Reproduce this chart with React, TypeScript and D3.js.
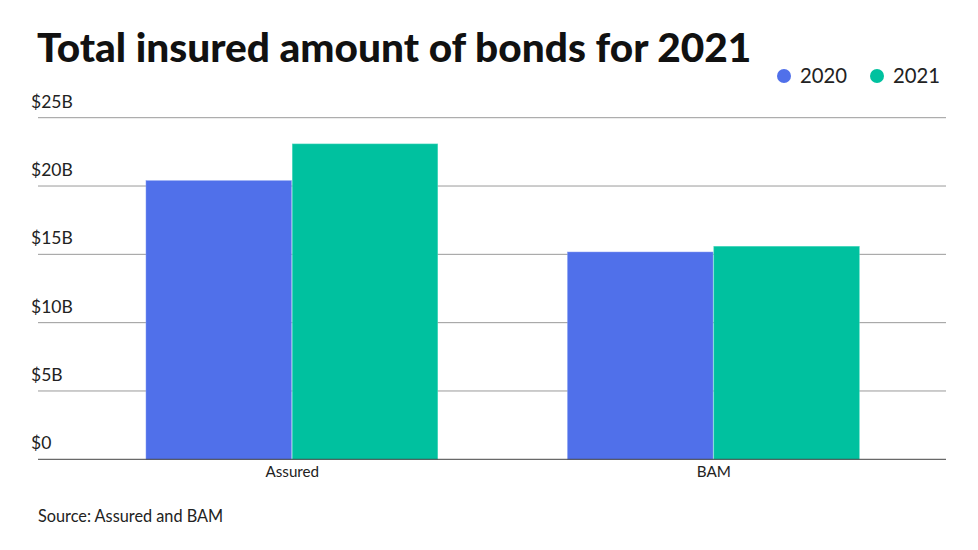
import React from "react";
import * as d3 from "d3";

const categories = ["Assured", "BAM"];
const seriesNames = ["2020", "2021"];
const values2020 = [20.39, 15.17];
const values2021 = [23.08, 15.59];
const yTicks = [0, 5, 10, 15, 20, 25];
const colors = ["#5070EA", "#00C19F"];

const W = 978;
const H = 550;
const left = 38;
const right = 946;
const top = 117.7;
const bottom = 459.3;

export default function App() {
  const x0 = d3
    .scaleBand<string>()
    .domain(categories)
    .range([left, right])
    .paddingInner(0.306)
    .paddingOuter(0.23)
    .align(0.557);
  const x1 = d3.scaleBand<string>().domain(seriesNames).range([0, x0.bandwidth()]);
  const y = d3.scaleLinear().domain([0, 25]).range([bottom, top]);
  const series = [values2020, values2021];
  const font = "Lato, 'Open Sans', sans-serif";

  return (
    <svg width={W} height={H} style={{ position: "absolute", left: 0, top: 0, background: "#fff" }} fontFamily={font}>
      <text x={37} y={62} fontSize={40.6} fontWeight={900} fill="#111">
        Total insured amount of bonds for 2021
      </text>
      {seriesNames.map((s, i) => {
        const lx = [784, 877][i];
        return (
          <g key={s}>
            <circle cx={lx} cy={76} r={7} fill={colors[i]} />
            <text x={lx + 16} y={83} fontSize={20.3} fill="#222">
              {s}
            </text>
          </g>
        );
      })}
      {yTicks.map((t) => (
        <g key={t}>
          {t > 0 && <line x1={left} x2={right} y1={y(t)} y2={y(t)} stroke="#9a9a9a" strokeWidth={1} />}
          <text x={31} y={y(t) - 10} fontSize={17.5} fill="#222">
            {"$" + (t === 0 ? "0" : t + "B")}
          </text>
        </g>
      ))}
      {categories.map((c, ci) => (
        <g key={c}>
          {seriesNames.map((s, si) => (
            <rect
              key={s}
              x={(x0(c) as number) + (x1(s) as number)}
              y={y(series[si][ci])}
              width={x1.bandwidth() - 0.8}
              height={bottom - y(series[si][ci])}
              fill={colors[si]}
              stroke={si === 0 ? "#7f97f2" : "#4fd9bf"}
              strokeWidth={0.5}
            />
          ))}
          <text x={(x0(c) as number) + x0.bandwidth() / 2} y={477} fontSize={15.2} textAnchor="middle" fill="#222">
            {c}
          </text>
        </g>
      ))}
      <line x1={left} x2={right} y1={bottom} y2={bottom} stroke="#444" strokeWidth={1} />
      <text x={38} y={522} fontSize={16.3} fill="#222">
        Source: Assured and BAM
      </text>
    </svg>
  );
}
